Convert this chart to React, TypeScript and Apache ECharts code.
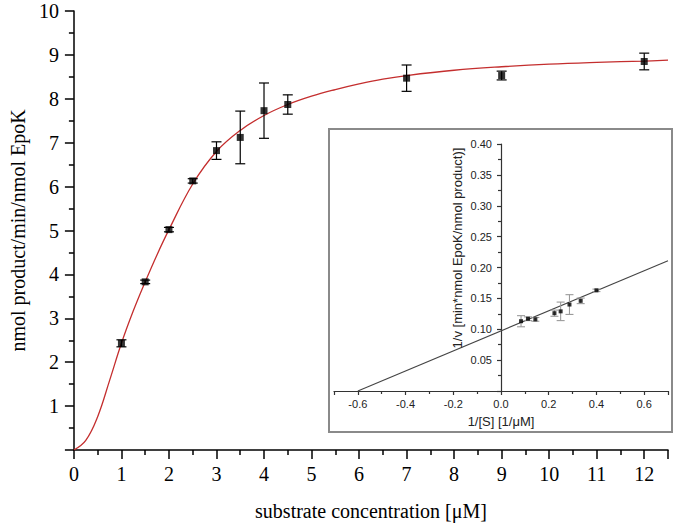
import React, { useEffect, useRef } from "react";
import * as echarts from "echarts";

// Main plot: substrate concentration vs. rate
const concentrations = [1, 1.5, 2, 2.5, 3, 3.5, 4, 4.5, 7, 9, 12];
const rates = [2.43, 3.83, 5.02, 6.13, 6.82, 7.12, 7.73, 7.87, 8.47, 8.53, 8.85];
const rateErrors = [0.08, 0.04, 0.05, 0.05, 0.2, 0.6, 0.63, 0.22, 0.3, 0.1, 0.19];

// Fitted curve
const fitX = [0, 0.25, 0.5, 0.75, 1, 1.25, 1.5, 1.75, 2, 2.5, 3, 3.5, 4, 4.5, 5, 5.5, 6, 6.5, 7, 8, 9, 10, 11, 12, 12.5];
const fitY = [0, 0.22, 0.76, 1.58, 2.43, 3.17, 3.83, 4.45, 5.02, 6.06, 6.8, 7.28, 7.62, 7.87, 8.06, 8.21, 8.34, 8.45, 8.53, 8.65, 8.73, 8.79, 8.83, 8.86, 8.88];

// Inset: Lineweaver-Burk plot
const invS = [0.084, 0.113, 0.144, 0.224, 0.25, 0.287, 0.334, 0.4];
const invV = [0.113, 0.117, 0.116, 0.126, 0.129, 0.14, 0.146, 0.163];
const invErr = [0.009, 0.003, 0.003, 0.005, 0.015, 0.016, 0.0045, 0.002];
const lbLineX = [-0.6, 0.7];
const lbLineY = [0, 0.211];

const xTitle = "substrate concentration [μM]";
const yTitle = "nmol product/min/nmol EpoK";
const insetXTitle = "1/[S] [1/μM]";
const insetYTitle = "1/v [min*nmol EpoK/nmol product)]";

const serif = "'Liberation Serif', 'Times New Roman', serif";
const sans = "'Liberation Sans', Arial, sans-serif";

function errorBars(
  xs: number[], ys: number[], errs: number[],
  axisIndex: number, color: string, capHalf: number, lineWidth: number
) {
  return {
    type: "custom",
    xAxisIndex: axisIndex,
    yAxisIndex: axisIndex,
    silent: true,
    z: 3,
    data: xs.map((x, i) => [x, ys[i] - errs[i], ys[i] + errs[i]]),
    encode: { x: 0, y: [1, 2] },
    renderItem: (params: any, api: any) => {
      const lo = api.coord([api.value(0), api.value(1)]);
      const hi = api.coord([api.value(0), api.value(2)]);
      const style = { stroke: color, lineWidth };
      return {
        type: "group",
        children: [
          { type: "line", shape: { x1: lo[0], y1: lo[1], x2: hi[0], y2: hi[1] }, style },
          { type: "line", shape: { x1: lo[0] - capHalf, y1: lo[1], x2: lo[0] + capHalf, y2: lo[1] }, style },
          { type: "line", shape: { x1: hi[0] - capHalf, y1: hi[1], x2: hi[0] + capHalf, y2: hi[1] }, style },
        ],
      };
    },
  };
}

export default function App() {
  const ref = useRef<HTMLDivElement>(null);
  useEffect(() => {
    if (!ref.current) return;
    const chart = echarts.init(ref.current, null, { renderer: "svg" });
    const mainAxisLine = { lineStyle: { color: "#000", width: 1.5 } };
    const insetLine = { color: "#333", width: 1.2 };
    const insetTop = 144;
    const insetHeight = 247;
    const insetLeft = 334;
    const insetWidth = 334;
    // pixel of x = 0 in the inset (x range -0.7..0.7)
    const insetZeroX = insetLeft + insetWidth / 2;
    const insetYAxisBase = {
      type: "value",
      min: 0,
      max: 0.4,
      interval: 0.05,
      splitLine: { show: false },
    };
    chart.setOption({
      animation: false,
      backgroundColor: "#fff",
      grid: [
        { left: 71, top: 11, width: 597, height: 440 },
        { left: insetLeft, top: insetTop, width: insetWidth, height: insetHeight },
        { left: insetZeroX, top: insetTop, width: insetWidth / 2, height: insetHeight },
      ],
      graphic: [
        {
          type: "rect",
          z: -1,
          shape: { x: 329, y: 129, width: 343, height: 303 },
          style: { fill: "#fff", stroke: "#8a8a8a", lineWidth: 2 },
        },
        {
          type: "text",
          z: 10,
          x: 457,
          y: 248,
          rotation: Math.PI / 2,
          style: {
            text: insetYTitle,
            fontSize: 13,
            fontFamily: sans,
            fill: "#222",
            align: "center",
            verticalAlign: "middle",
          },
        },
      ],
      xAxis: [
        {
          gridIndex: 0,
          type: "value",
          min: 0,
          max: 12.5,
          interval: 1,
          axisLine: mainAxisLine,
          axisTick: { length: 9, lineStyle: { color: "#000", width: 1.5 } },
          minorTick: { show: true, splitNumber: 2, length: 5, lineStyle: { color: "#000", width: 1.5 } },
          splitLine: { show: false },
          axisLabel: {
            color: "#000",
            fontFamily: serif,
            fontSize: 20,
            margin: 14,
            formatter: (v: number) => (Number.isInteger(v) ? String(v) : ""),
          },
          name: xTitle,
          nameLocation: "middle",
          nameGap: 51,
          nameTextStyle: { color: "#000", fontFamily: serif, fontSize: 20 },
        },
        {
          gridIndex: 1,
          type: "value",
          min: -0.7,
          max: 0.7,
          splitNumber: 7,
          axisLine: { onZero: false, lineStyle: insetLine },
          axisTick: { length: 4, lineStyle: insetLine },
          minorTick: { show: true, splitNumber: 2, length: 3, lineStyle: insetLine },
          splitLine: { show: false },
          axisLabel: {
            color: "#222",
            fontFamily: sans,
            fontSize: 11,
            margin: 7,
            formatter: (v: number) => {
              const t = Math.round(v * 10);
              if (Math.abs(t) > 6 || t % 2 !== 0) return "";
              return (t / 10).toFixed(1);
            },
          },
          name: insetXTitle,
          nameLocation: "middle",
          nameGap: 24,
          nameTextStyle: { color: "#222", fontFamily: sans, fontSize: 13 },
        },
        {
          gridIndex: 2,
          type: "value",
          min: 0,
          max: 0.7,
          show: false,
        },
      ],
      yAxis: [
        {
          gridIndex: 0,
          type: "value",
          min: 0,
          max: 10,
          interval: 1,
          axisLine: mainAxisLine,
          axisTick: { length: 9, lineStyle: { color: "#000", width: 1.5 } },
          minorTick: { show: true, splitNumber: 2, length: 5, lineStyle: { color: "#000", width: 1.5 } },
          splitLine: { show: false },
          axisLabel: {
            color: "#000",
            fontFamily: serif,
            fontSize: 20,
            margin: 15,
            formatter: (v: number) => (v === 0 ? "" : String(v)),
          },
          name: yTitle,
          nameLocation: "middle",
          nameGap: 43,
          nameTextStyle: { color: "#000", fontFamily: serif, fontSize: 20 },
        },
        {
          ...insetYAxisBase,
          gridIndex: 1,
          show: false,
        },
        {
          ...insetYAxisBase,
          gridIndex: 2,
          axisLine: { show: true, onZero: false, lineStyle: insetLine },
          axisTick: { show: true, length: 4, lineStyle: insetLine },
          minorTick: { show: true, splitNumber: 2, length: 3, lineStyle: insetLine },
          axisLabel: {
            color: "#222",
            fontFamily: sans,
            fontSize: 11,
            margin: 9,
            formatter: (v: number) => (v === 0 ? "" : v.toFixed(2)),
          },
        },
      ],
      series: [
        {
          type: "line",
          xAxisIndex: 0,
          yAxisIndex: 0,
          data: fitX.map((x, i) => [x, fitY[i]]),
          smooth: 0.4,
          showSymbol: false,
          silent: true,
          lineStyle: { color: "#c42e2e", width: 1.3 },
          z: 2,
        },
        errorBars(concentrations, rates, rateErrors, 0, "#000", 5, 1.2),
        {
          type: "scatter",
          xAxisIndex: 0,
          yAxisIndex: 0,
          data: concentrations.map((x, i) => [x, rates[i]]),
          symbol: "rect",
          symbolSize: 7,
          itemStyle: { color: "#000" },
          z: 4,
        },
        {
          type: "line",
          xAxisIndex: 1,
          yAxisIndex: 1,
          data: lbLineX.map((x, i) => [x, lbLineY[i]]),
          showSymbol: false,
          silent: true,
          lineStyle: { color: "#444", width: 1.1 },
          z: 2,
        },
        errorBars(invS, invV, invErr, 1, "#9a9a9a", 4, 1.1),
        {
          type: "scatter",
          xAxisIndex: 1,
          yAxisIndex: 1,
          data: invS.map((x, i) => [x, invV[i]]),
          symbol: "rect",
          symbolSize: 4,
          itemStyle: { color: "#000" },
          z: 4,
        },
      ],
    });
    return () => chart.dispose();
  }, []);
  return (
    <div
      ref={ref}
      style={{ position: "absolute", left: 0, top: 0, width: 675, height: 526 }}
    />
  );
}
